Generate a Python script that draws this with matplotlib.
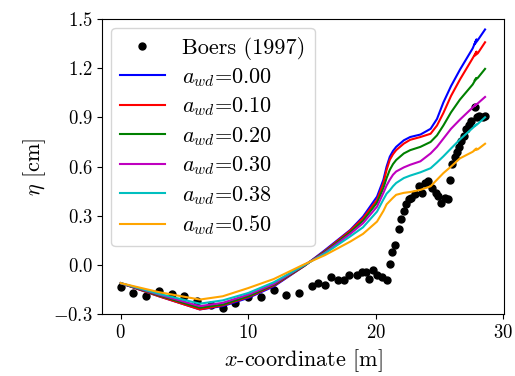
import matplotlib
matplotlib.use("Agg")
import matplotlib.pyplot as plt
from matplotlib.ticker import MultipleLocator

plt.rcParams['font.family'] = 'serif'
plt.rcParams['font.serif'] = ['cmr10']
plt.rcParams['mathtext.fontset'] = 'cm'
plt.rcParams['axes.formatter.use_mathtext'] = True
plt.rcParams['font.size'] = 13

# Experimental data (Boers 1997)
obs_x = [0.0, 0.97, 2.0, 3.0, 4.0, 5.0, 6.0, 7.1, 8.0, 9.0, 10.0, 11.0, 12.0, 13.0,
         14.0, 15.0, 15.5, 16.0, 16.5, 17.0, 17.5, 17.9, 18.5, 18.9, 19.2, 19.5,
         19.8, 20.1, 20.5, 20.9, 21.1, 21.3, 21.5, 21.8, 22.0, 22.2, 22.4, 22.6,
         22.8, 23.1, 23.4, 23.6, 23.9, 24.1, 24.4, 24.7, 24.9, 25.1, 25.4, 25.7,
         25.8, 26.0, 26.2, 26.35, 26.5, 26.7, 26.9, 27.1, 27.3, 27.5, 27.8, 27.9,
         28.1, 28.4, 28.6]
obs_y = [-0.134, -0.17, -0.19, -0.158, -0.174, -0.19, -0.22, -0.245, -0.26, -0.23,
         -0.195, -0.195, -0.15, -0.18, -0.17, -0.13, -0.11, -0.124, -0.073, -0.093,
         -0.089, -0.063, -0.063, -0.043, -0.045, -0.083, -0.028, -0.06, -0.073,
         -0.088, 0.008, 0.079, 0.12, 0.22, 0.28, 0.33, 0.37, 0.40, 0.41, 0.43,
         0.48, 0.44, 0.50, 0.515, 0.47, 0.44, 0.42, 0.38, 0.41, 0.40, 0.52, 0.617,
         0.657, 0.69, 0.72, 0.758, 0.789, 0.83, 0.856, 0.88, 0.965, 0.90, 0.91,
         0.90, 0.91]

# Model results (shared x grid)
mod_x = [0, 3, 6.2, 8, 10, 12, 14.4, 16, 18, 19, 20.1, 20.6, 20.85, 21.1, 21.35,
         21.6, 22.2, 22.7, 23.5, 24.3, 24.8, 25.3, 25.9, 26.6, 27.6, 27.9, 27.75,
         28.0, 28.57]
y_000 = [-0.11, -0.19, -0.27, -0.25, -0.20, -0.13, -0.005, 0.09, 0.214, 0.295,
         0.417, 0.52, 0.60, 0.66, 0.695, 0.72, 0.76, 0.78, 0.795, 0.83, 0.89,
         0.99, 1.09, 1.19, 1.32, 1.375, 1.345, 1.37, 1.435]
y_010 = [-0.11, -0.19, -0.27, -0.245, -0.195, -0.125, -0.005, 0.085, 0.21, 0.285,
         0.397, 0.50, 0.58, 0.641, 0.675, 0.70, 0.74, 0.763, 0.78, 0.80, 0.85,
         0.926, 1.03, 1.13, 1.26, 1.30, 1.275, 1.29, 1.357]
y_020 = [-0.11, -0.185, -0.26, -0.24, -0.19, -0.12, -0.003, 0.08, 0.20, 0.27,
         0.38, 0.47, 0.53, 0.58, 0.615, 0.64, 0.68, 0.70, 0.72, 0.75, 0.79,
         0.85, 0.93, 1.008, 1.10, 1.14, 1.125, 1.14, 1.195]
y_030 = [-0.11, -0.18, -0.25, -0.23, -0.18, -0.115, 0.0, 0.075, 0.19, 0.255,
         0.356, 0.44, 0.485, 0.52, 0.55, 0.57, 0.595, 0.611, 0.632, 0.68, 0.72,
         0.77, 0.83, 0.886, 0.96, 0.98, 0.97, 0.985, 1.024]
y_038 = [-0.11, -0.175, -0.235, -0.215, -0.17, -0.105, 0.0, 0.07, 0.175, 0.23,
         0.326, 0.40, 0.435, 0.455, 0.48, 0.50, 0.53, 0.545, 0.565, 0.59, 0.625,
         0.662, 0.71, 0.765, 0.835, 0.855, 0.848, 0.86, 0.90]
y_050 = [-0.11, -0.165, -0.21, -0.19, -0.14, -0.085, 0.005, 0.06, 0.143, 0.19,
         0.265, 0.33, 0.37, 0.39, 0.41, 0.428, 0.44, 0.445, 0.458, 0.48, 0.52,
         0.56, 0.60, 0.65, 0.69, 0.71, 0.70, 0.705, 0.739]

series = [(y_000, 'b', '0.00'), (y_010, 'r', '0.10'), (y_020, 'g', '0.20'),
          (y_030, 'm', '0.30'), (y_038, 'c', '0.38'), (y_050, 'orange', '0.50')]

fig = plt.figure(figsize=(5.15, 3.76), dpi=100)
ax = fig.add_axes([0.199, 0.164, 0.779, 0.786])

ax.plot(obs_x, obs_y, 'o', color='k', markersize=5, label='Boers (1997)', zorder=1)
for ys, c, lab in series:
    ax.plot(mod_x, ys, '-', color=c, linewidth=1.5, label=r'$a_{wd}$=' + lab)

ax.set_ylim(-0.3, 1.5)
ax.yaxis.set_major_locator(MultipleLocator(0.3))
ax.xaxis.set_major_locator(MultipleLocator(10))
ax.tick_params(labelsize=13.5)
ax.set_xlabel(r'$x$-coordinate [m]', fontsize=16, labelpad=4)
ax.set_ylabel(r'$\eta$ [cm]', fontsize=16)
ax.legend(loc='upper left', fontsize=16, labelspacing=0.3, handlelength=2.0,
          borderaxespad=0.4)

fig.savefig('out.png', dpi=100)
